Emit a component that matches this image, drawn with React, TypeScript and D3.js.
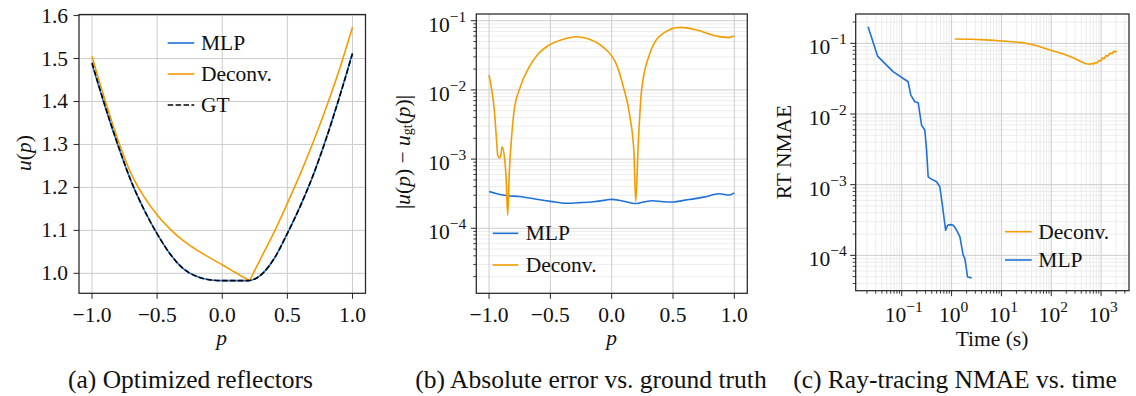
import React from "react";
import * as d3 from "d3";

const FONT = "'Liberation Serif', 'Times New Roman', serif";
const BLUE = "#1f72d4";
const ORANGE = "#f29d00";
const FS = 21.5;
const CAP_FS = 25.5;

// ---------- Panel (a): Optimized reflectors ----------
const aP = [-1, -0.9, -0.8, -0.7, -0.6, -0.5, -0.4, -0.3, -0.2, -0.1, 0, 0.1, 0.2, 0.3, 0.4, 0.5, 0.6, 0.7, 0.8, 0.9, 1.0];
const aGT = [1.49, 1.39, 1.298, 1.215, 1.148, 1.092, 1.045, 1.011, 0.993, 0.985, 0.983, 0.983, 0.983, 0.997, 1.035, 1.093, 1.157, 1.23, 1.315, 1.41, 1.511];
const aMLP = [1.487, 1.388, 1.297, 1.214, 1.148, 1.092, 1.045, 1.011, 0.993, 0.985, 0.983, 0.983, 0.983, 0.997, 1.035, 1.093, 1.157, 1.23, 1.316, 1.411, 1.513];
const aDecP = [-1, -0.9, -0.8, -0.7, -0.6, -0.5, -0.4, -0.3, -0.2, -0.1, 0, 0.1, 0.21, 0.3, 0.4, 0.5, 0.6, 0.7, 0.8, 0.9, 1.0];
const aDeconv = [1.505, 1.403, 1.31, 1.232, 1.178, 1.136, 1.103, 1.076, 1.055, 1.037, 1.02, 1.002, 0.983, 1.037, 1.097, 1.163, 1.232, 1.307, 1.387, 1.475, 1.573];
const aXTicks = [-1, -0.5, 0, 0.5, 1];
const aXLabels = ["\u22121.0", "\u22120.5", "0.0", "0.5", "1.0"];
const aYTicks = [1.0, 1.1, 1.2, 1.3, 1.4, 1.5, 1.6];
const aYLabels = ["1.0", "1.1", "1.2", "1.3", "1.4", "1.5", "1.6"];

// ---------- Panel (b): Absolute error vs. ground truth ----------
const bMlpP = [-1, -0.9, -0.85, -0.75, -0.6, -0.5, -0.37, -0.25, -0.15, -0.05, 0.0, 0.08, 0.2, 0.27, 0.33, 0.42, 0.5, 0.6, 0.75, 0.88, 0.96, 1.0];
const bMLP = [3.4e-4, 3.05e-4, 2.95e-4, 2.88e-4, 2.6e-4, 2.45e-4, 2.3e-4, 2.35e-4, 2.42e-4, 2.55e-4, 2.62e-4, 2.5e-4, 2.28e-4, 2.42e-4, 2.5e-4, 2.42e-4, 2.4e-4, 2.55e-4, 2.82e-4, 3.15e-4, 3.02e-4, 3.25e-4];
const bDecP = [-1.0, -0.98, -0.957, -0.94, -0.93, -0.915, -0.905, -0.894, -0.875, -0.86, -0.848, -0.835, -0.82, -0.795, -0.754, -0.672, -0.6, -0.509, -0.4, -0.292, -0.2, -0.073, 0.0, 0.035, 0.095, 0.149, 0.182, 0.196, 0.217, 0.244, 0.312, 0.42, 0.557, 0.693, 0.856, 0.95, 1.0];
const bDeconv = [0.0164, 0.0105, 0.0051, 0.002, 0.00115, 0.00105, 0.0011, 0.00151, 0.00108, 0.0005, 0.000155, 0.00063, 0.0017, 0.0051, 0.01, 0.0216, 0.033, 0.0446, 0.0537, 0.0587, 0.0555, 0.042, 0.031, 0.0242, 0.0111, 0.0041, 0.00121, 0.000242, 0.0017, 0.01, 0.0338, 0.0658, 0.08, 0.0735, 0.06, 0.057, 0.06];
const bXTicks = [-1, -0.5, 0, 0.5, 1];
const bXLabels = ["\u22121.0", "\u22120.5", "0.0", "0.5", "1.0"];
const bYExps = [-4, -3, -2, -1];

// ---------- Panel (c): Ray-tracing NMAE vs. time ----------
const cMlpT = [0.0211, 0.0327, 0.067, 0.134, 0.152, 0.183, 0.214, 0.25, 0.291, 0.315, 0.339, 0.38, 0.5, 0.582, 0.647, 0.759, 0.832, 0.95, 1.08, 1.2, 1.26, 1.47, 1.71, 1.85, 2.09, 2.52];
const cMLP = [0.172, 0.066, 0.0397, 0.0286, 0.0185, 0.0149, 0.0144, 0.00697, 0.0059, 0.00308, 0.00129, 0.00122, 0.0011, 0.00093, 0.000542, 0.000227, 0.000267, 0.000272, 0.000267, 0.00024, 0.000227, 0.000183, 0.0001, 9e-5, 4.94e-5, 4.8e-5];
const cDecT = [1.16, 2.5, 5.9, 12, 27.4, 50, 94, 170, 277, 400, 500, 598, 650, 700, 760, 820, 900, 980, 1060, 1150, 1250, 1350, 1500, 1650, 1800, 1950, 2057];
const cDeconv = [0.115, 0.1145, 0.111, 0.107, 0.102, 0.093, 0.0804, 0.071, 0.0625, 0.055, 0.0515, 0.0505, 0.0518, 0.0508, 0.0535, 0.0528, 0.057, 0.0562, 0.062, 0.0605, 0.067, 0.0655, 0.0725, 0.0715, 0.077, 0.0755, 0.0786];
const cXExps = [-1, 0, 1, 2, 3];
const cYExps = [-4, -3, -2, -1];

// ---------- layout ----------
const RA = { l: 79, r: 365.5, t: 14.5, b: 293.3 };
const RB = { l: 476.3, r: 747.3, t: 14, b: 293.3 };
const RC = { l: 855.7, r: 1129, t: 14, b: 290.7 };

const xA = d3.scaleLinear().domain([-1.1, 1.1]).range([RA.l, RA.r]);
const yA = d3.scaleLinear().domain([0.9535, 1.6025]).range([RA.b, RA.t]);
const xB = d3.scaleLinear().domain([-1.104, 1.106]).range([RB.l, RB.r]);
const yB = d3.scaleLog().domain([10 ** -4.94, 10 ** -0.903]).range([RB.b, RB.t]);
const xC = d3.scaleLog().domain([10 ** -1.924, 10 ** 3.56]).range([RC.l, RC.r]);
const yC = d3.scaleLog().domain([10 ** -4.5, 10 ** -0.585]).range([RC.b, RC.t]);

const MAJ = "#cccccc";
const MIN = "#ececec";
const SPINE = "#262626";
const TICK_BASE = 321.7;

function minorVals(domain: number[]) {
  const lo = Math.min(domain[0], domain[1]);
  const hi = Math.max(domain[0], domain[1]);
  const out: number[] = [];
  for (let e = Math.floor(Math.log10(lo)); e <= Math.ceil(Math.log10(hi)); e++) {
    for (let k = 2; k <= 9; k++) {
      const v = k * 10 ** e;
      if (v >= lo && v <= hi) out.push(v);
    }
  }
  return out;
}

function mkLine(xs: number[], ys: number[], sx: any, sy: any, curve: any) {
  const pts = xs.map((x, i) => [sx(x), sy(ys[i])] as [number, number]);
  return d3.line().curve(curve)(pts) || "";
}

const Pow = ({ x, y, e, anchor }: { x: number; y: number; e: number; anchor: string }) => (
  <text x={x} y={y} textAnchor={anchor} fontSize={FS} fontFamily={FONT} fill="#111">
    10
    <tspan fontSize={15.5} dy={-10}>{e < 0 ? "\u2212" + Math.abs(e) : String(e)}</tspan>
  </text>
);

function Frame({ R }: { R: { l: number; r: number; t: number; b: number } }) {
  return (
    <rect x={R.l} y={R.t} width={R.r - R.l} height={R.b - R.t} fill="none" stroke={SPINE} strokeWidth={1.25} />
  );
}

export default function App() {
  const aGrid = (
    <g>
      {aXTicks.map((v) => (
        <line key={"ax" + v} x1={xA(v)} x2={xA(v)} y1={RA.t} y2={RA.b} stroke={MAJ} strokeWidth={1} />
      ))}
      {aYTicks.map((v) => (
        <line key={"ay" + v} x1={RA.l} x2={RA.r} y1={yA(v)} y2={yA(v)} stroke={MAJ} strokeWidth={1} />
      ))}
    </g>
  );
  const iMin = aDeconv.indexOf(Math.min(...aDeconv));
  const decLeft = mkLine(aDecP.slice(0, iMin + 1), aDeconv.slice(0, iMin + 1), xA, yA, d3.curveMonotoneX);
  const decRight = mkLine(aDecP.slice(iMin), aDeconv.slice(iMin), xA, yA, d3.curveMonotoneX);

  const bMinor = minorVals(yB.domain());
  const cMinorY = minorVals(yC.domain());
  const cMinorX = minorVals(xC.domain());

  return (
    <svg width={1136} height={396} viewBox="0 0 1136 396" style={{ display: "block", position: "absolute", left: 0, top: 0, background: "#fff" }} fontFamily={FONT}>
      <rect x={0} y={0} width={1136} height={396} fill="#fff" />
      <defs>
        <clipPath id="ca"><rect x={RA.l} y={RA.t} width={RA.r - RA.l} height={RA.b - RA.t} /></clipPath>
        <clipPath id="cb"><rect x={RB.l} y={RB.t} width={RB.r - RB.l} height={RB.b - RB.t} /></clipPath>
        <clipPath id="cc"><rect x={RC.l} y={RC.t} width={RC.r - RC.l} height={RC.b - RC.t} /></clipPath>
      </defs>

      {/* ================= Panel A ================= */}
      {aGrid}
      <g clipPath="url(#ca)" fill="none" strokeLinejoin="round" strokeLinecap="butt">
        <path d={mkLine(aP, aMLP, xA, yA, d3.curveMonotoneX)} stroke={BLUE} strokeWidth={1.6} />
        <path d={decLeft} stroke={ORANGE} strokeWidth={1.6} />
        <path d={decRight} stroke={ORANGE} strokeWidth={1.6} />
        <path d={mkLine(aP, aGT, xA, yA, d3.curveMonotoneX)} stroke="#000" strokeWidth={1.6} strokeDasharray="5.5,2.4" />
      </g>
      <Frame R={RA} />
      {aXTicks.map((v, i) => (
        <g key={"axt" + i}>
          <line x1={xA(v)} x2={xA(v)} y1={RA.b} y2={RA.b + 5.5} stroke={SPINE} strokeWidth={1} />
          <text x={xA(v)} y={TICK_BASE} textAnchor="middle" fontSize={FS} fill="#111">{aXLabels[i]}</text>
        </g>
      ))}
      {aYTicks.map((v, i) => (
        <g key={"ayt" + i}>
          <line x1={RA.l} x2={RA.l - 5.5} y1={yA(v)} y2={yA(v)} stroke={SPINE} strokeWidth={1} />
          <text x={RA.l - 11} y={yA(v) + 7} textAnchor="end" fontSize={FS} fill="#111">{aYLabels[i]}</text>
        </g>
      ))}
      <text transform={`translate(24,153) rotate(-90)`} textAnchor="middle" dominantBaseline="central" fontSize={FS} fill="#111">
        <tspan fontStyle="italic">u</tspan>(<tspan fontStyle="italic">p</tspan>)
      </text>
      <text x={221.7} y={345} textAnchor="middle" fontSize={FS} fontStyle="italic" fill="#111">p</text>
      {[
        { label: "MLP", color: BLUE, dash: undefined, y: 43 },
        { label: "Deconv.", color: ORANGE, dash: undefined, y: 74 },
        { label: "GT", color: "#000", dash: "5.5,2.4", y: 105 },
      ].map((it) => (
        <g key={"la" + it.label}>
          <line x1={167.7} x2={194.3} y1={it.y} y2={it.y} stroke={it.color} strokeWidth={1.6} strokeDasharray={it.dash} />
          <text x={201} y={it.y + 7} fontSize={FS} fill="#111">{it.label}</text>
        </g>
      ))}
      <text x={190.5} y={388} textAnchor="middle" fontSize={CAP_FS} fill="#111">(a) Optimized reflectors</text>

      {/* ================= Panel B ================= */}
      <g>
        {bMinor.map((v, i) => (
          <line key={"bmi" + i} x1={RB.l} x2={RB.r} y1={yB(v)} y2={yB(v)} stroke={MIN} strokeWidth={1} />
        ))}
        {bXTicks.map((v) => (
          <line key={"bx" + v} x1={xB(v)} x2={xB(v)} y1={RB.t} y2={RB.b} stroke={MAJ} strokeWidth={1} />
        ))}
        {bYExps.map((e) => (
          <line key={"by" + e} x1={RB.l} x2={RB.r} y1={yB(10 ** e)} y2={yB(10 ** e)} stroke={MAJ} strokeWidth={1} />
        ))}
      </g>
      <g clipPath="url(#cb)" fill="none" strokeLinejoin="round">
        <path d={mkLine(bMlpP, bMLP, xB, yB, d3.curveMonotoneX)} stroke={BLUE} strokeWidth={1.6} />
        <path d={mkLine(bDecP, bDeconv, xB, yB, d3.curveMonotoneX)} stroke={ORANGE} strokeWidth={1.6} />
      </g>
      <Frame R={RB} />
      {bXTicks.map((v, i) => (
        <g key={"bxt" + i}>
          <line x1={xB(v)} x2={xB(v)} y1={RB.b} y2={RB.b + 5.5} stroke={SPINE} strokeWidth={1} />
          <text x={xB(v)} y={TICK_BASE} textAnchor="middle" fontSize={FS} fill="#111">{bXLabels[i]}</text>
        </g>
      ))}
      {bMinor.map((v, i) => (
        <line key={"bmt" + i} x1={RB.l} x2={RB.l - 3} y1={yB(v)} y2={yB(v)} stroke={SPINE} strokeWidth={0.9} />
      ))}
      {bYExps.map((e) => (
        <g key={"byt" + e}>
          <line x1={RB.l} x2={RB.l - 5.5} y1={yB(10 ** e)} y2={yB(10 ** e)} stroke={SPINE} strokeWidth={1} />
          <Pow x={RB.l - 10} y={yB(10 ** e) + 11} e={e} anchor="end" />
        </g>
      ))}
      <text transform={`translate(403,152) rotate(-90)`} textAnchor="middle" dominantBaseline="central" fontSize={FS} fill="#111">
        |<tspan fontStyle="italic">u</tspan>(<tspan fontStyle="italic">p</tspan>) {"\u2212"} <tspan fontStyle="italic">u</tspan>
        <tspan fontSize={14} dy={4}>gt</tspan>
        <tspan dy={-4}>(</tspan>
        <tspan fontStyle="italic">p</tspan>)|
      </text>
      <text x={611.7} y={345} textAnchor="middle" fontSize={FS} fontStyle="italic" fill="#111">p</text>
      {[
        { label: "MLP", color: BLUE, y: 233.3 },
        { label: "Deconv.", color: ORANGE, y: 265 },
      ].map((it) => (
        <g key={"lb" + it.label}>
          <line x1={492.7} x2={518.3} y1={it.y} y2={it.y} stroke={it.color} strokeWidth={1.6} />
          <text x={525.7} y={it.y + 7} fontSize={FS} fill="#111">{it.label}</text>
        </g>
      ))}
      <text x={591} y={388} textAnchor="middle" fontSize={CAP_FS} fill="#111">(b) Absolute error vs. ground truth</text>

      {/* ================= Panel C ================= */}
      <g>
        {cMinorY.map((v, i) => (
          <line key={"cmy" + i} x1={RC.l} x2={RC.r} y1={yC(v)} y2={yC(v)} stroke={MIN} strokeWidth={1} />
        ))}
        {cMinorX.map((v, i) => (
          <line key={"cmx" + i} x1={xC(v)} x2={xC(v)} y1={RC.t} y2={RC.b} stroke={MIN} strokeWidth={1} />
        ))}
        {cYExps.map((e) => (
          <line key={"cy" + e} x1={RC.l} x2={RC.r} y1={yC(10 ** e)} y2={yC(10 ** e)} stroke={MAJ} strokeWidth={1} />
        ))}
        {cXExps.map((e) => (
          <line key={"cx" + e} x1={xC(10 ** e)} x2={xC(10 ** e)} y1={RC.t} y2={RC.b} stroke={MAJ} strokeWidth={1} />
        ))}
      </g>
      <g clipPath="url(#cc)" fill="none" strokeLinejoin="round">
        <path d={mkLine(cDecT, cDeconv, xC, yC, d3.curveLinear)} stroke={ORANGE} strokeWidth={1.6} />
        <path d={mkLine(cMlpT, cMLP, xC, yC, d3.curveLinear)} stroke={BLUE} strokeWidth={1.6} />
      </g>
      <Frame R={RC} />
      {cMinorY.map((v, i) => (
        <line key={"cmyt" + i} x1={RC.l} x2={RC.l - 3} y1={yC(v)} y2={yC(v)} stroke={SPINE} strokeWidth={0.9} />
      ))}
      {cMinorX.map((v, i) => (
        <line key={"cmxt" + i} x1={xC(v)} x2={xC(v)} y1={RC.b} y2={RC.b + 3} stroke={SPINE} strokeWidth={0.9} />
      ))}
      {cYExps.map((e) => (
        <g key={"cyt" + e}>
          <line x1={RC.l} x2={RC.l - 5.5} y1={yC(10 ** e)} y2={yC(10 ** e)} stroke={SPINE} strokeWidth={1} />
          <Pow x={RC.l - 9} y={yC(10 ** e) + 11} e={e} anchor="end" />
        </g>
      ))}
      {cXExps.map((e) => (
        <g key={"cxt" + e}>
          <line x1={xC(10 ** e)} x2={xC(10 ** e)} y1={RC.b} y2={RC.b + 5.5} stroke={SPINE} strokeWidth={1} />
          <Pow x={xC(10 ** e) + 2} y={TICK_BASE} e={e} anchor="middle" />
        </g>
      ))}
      <text transform={`translate(784,152) rotate(-90)`} textAnchor="middle" dominantBaseline="central" fontSize={FS} fill="#111">RT NMAE</text>
      <text x={992} y={346} textAnchor="middle" fontSize={FS} fill="#111">Time (s)</text>
      {[
        { label: "Deconv.", color: ORANGE, y: 231.7 },
        { label: "MLP", color: BLUE, y: 260 },
      ].map((it) => (
        <g key={"lc" + it.label}>
          <line x1={1005} x2={1031.7} y1={it.y} y2={it.y} stroke={it.color} strokeWidth={1.6} />
          <text x={1038.3} y={it.y + 7} fontSize={FS} fill="#111">{it.label}</text>
        </g>
      ))}
      <text x={955} y={388} textAnchor="middle" fontSize={CAP_FS} fill="#111">(c) Ray-tracing NMAE vs. time</text>
    </svg>
  );
}
